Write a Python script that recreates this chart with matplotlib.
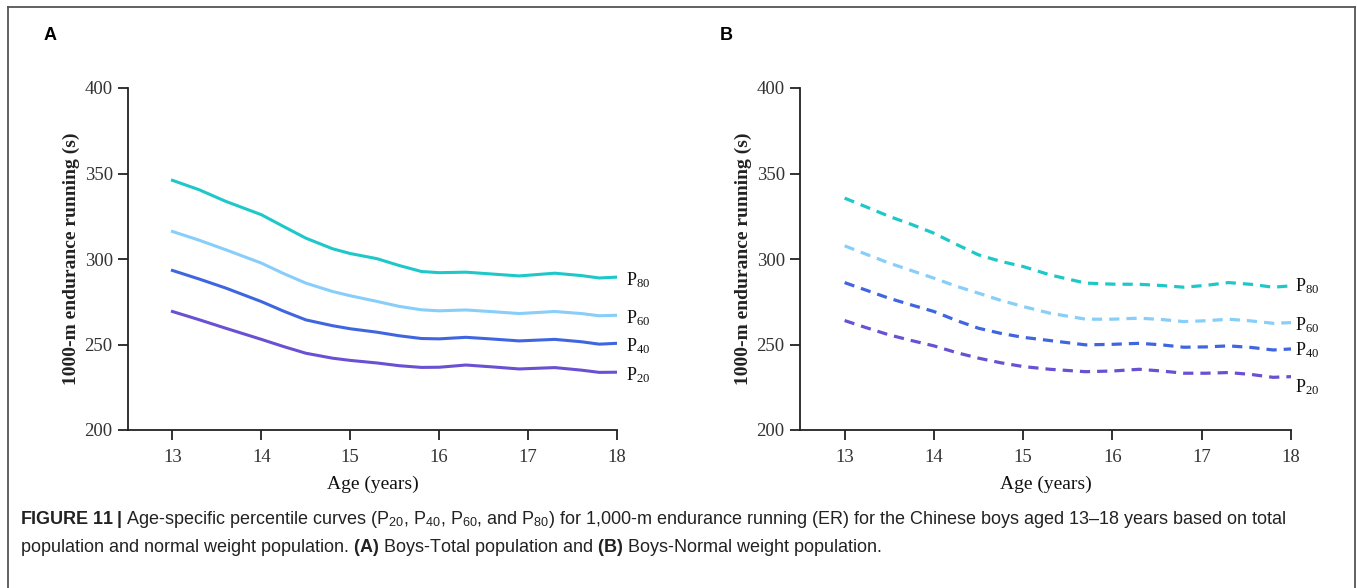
import matplotlib
matplotlib.use("Agg")
import matplotlib.pyplot as plt
from matplotlib.lines import Line2D

plt.rcParams['mathtext.fontset'] = 'custom'
plt.rcParams['mathtext.rm'] = 'Liberation Serif'
plt.rcParams['mathtext.it'] = 'Liberation Serif:italic'
plt.rcParams['mathtext.sf'] = 'Liberation Sans'
plt.rcParams['mathtext.bf'] = 'Liberation Sans:bold'

# ---- data ----
ages_a = [13, 13.3, 13.6, 14, 14.25, 14.5, 14.8, 15, 15.3, 15.55, 15.8, 16, 16.3, 16.6, 16.9, 17.3, 17.6, 17.8, 18]
a_p80 = [346, 340.5, 333.7, 325.9, 319, 312.2, 306, 303.2, 300.2, 296.2, 292.7, 292, 292.3, 291.2, 290.1, 291.7, 290.3, 288.9, 289.4]
a_p60 = [316.1, 311, 305.4, 297.6, 291.5, 285.9, 281, 278.5, 275.2, 272.3, 270.3, 269.7, 270.2, 269.2, 268.1, 269.3, 268.1, 266.8, 267.1]
a_p40 = [293.3, 288.3, 283, 275.1, 269.5, 264.4, 261, 259.2, 257.2, 255.1, 253.5, 253.3, 254.2, 253.2, 252.1, 253, 251.6, 250.2, 250.7]
a_p20 = [269.3, 264.5, 259.5, 253, 248.8, 244.9, 242, 240.7, 239.2, 237.6, 236.6, 236.7, 238, 236.9, 235.7, 236.5, 235, 233.7, 233.8]

ages_b = [13, 13.25, 13.5, 13.75, 14, 14.25, 14.5, 14.75, 15, 15.3, 15.7, 16, 16.3, 16.55, 16.8, 17.05, 17.3, 17.55, 17.8, 18]
b_p80 = [335.6, 330.3, 324.9, 320.2, 315.1, 308.6, 302.4, 298.6, 295.6, 290.7, 285.9, 285.3, 285.2, 284.5, 283.5, 284.6, 286.2, 285.2, 283.5, 284.3]
b_p60 = [307.7, 302.6, 297.6, 293.2, 288.8, 284.1, 280, 275.8, 272.2, 268.3, 264.8, 264.8, 265.4, 264.6, 263.4, 263.9, 264.8, 263.8, 262.4, 262.8]
b_p40 = [286.2, 281.6, 277, 273.1, 269.3, 264.1, 259.5, 256.5, 254.2, 252.3, 249.8, 250.1, 250.7, 249.8, 248.4, 248.6, 249.2, 248.3, 246.8, 247.4]
b_p20 = [264, 259.7, 255.6, 252.3, 249.2, 245.3, 242, 239.3, 237.1, 235.5, 234.1, 234.5, 235.5, 234.5, 233.2, 233.2, 233.6, 232.5, 230.8, 231.2]

percentiles = ['80', '60', '40', '20']
colors = ['#1EC8C8', '#87CEFA', '#3F66E0', '#6A50D2']
label_y_a = [287.8, 265.5, 248.8, 232.0]
label_y_b = [283.9, 261.5, 246.8, 225.3]
xticks = [13, 14, 15, 16, 17, 18]
yticks = [200, 250, 300, 350, 400]

W, H = 1357, 588
fig = plt.figure(figsize=(W / 100, H / 100), dpi=100)

# frame
for xs, ys in [([8 / W, 8 / W], [0, 1 - 7 / H]), ([8 / W, 1355 / W], [1 - 7 / H, 1 - 7 / H]),
               ([1355 / W, 1355 / W], [1 - 7 / H, 0])]:
    fig.add_artist(Line2D(xs, ys, transform=fig.transFigure, color='#555555', lw=1.3))

serif = 'Liberation Serif'

def panel(rect, ages, series, label_ys, label_x, dashed, letter, letter_x):
    ax = fig.add_axes(rect)
    for vals, c, p, ly in zip(series, colors, percentiles, label_ys):
        if dashed:
            ax.plot(ages, vals, color=c, lw=2.3, dashes=(3.2, 2.2), solid_capstyle='butt')
        else:
            ax.plot(ages, vals, color=c, lw=2.2)
        ax.text(label_x, ly, 'P$_{' + p + '}$', fontsize=13, family=serif,
                color='#111111', va='center', ha='left')
    ax.set_xlim(12.5, 18)
    ax.set_ylim(200, 400)
    ax.set_xticks(xticks)
    ax.set_yticks(yticks)
    for s in ['top', 'right']:
        ax.spines[s].set_visible(False)
    for s in ['left', 'bottom']:
        ax.spines[s].set_linewidth(1.3)
        ax.spines[s].set_color('#222222')
    ax.spines['bottom'].set_bounds(12.5, 18)
    ax.tick_params(direction='out', length=7, width=1.3, color='#222222',
                   labelsize=13.5, labelcolor='#333333', pad=4)
    for lab in ax.get_xticklabels() + ax.get_yticklabels():
        lab.set_family(serif)
    ax.tick_params(axis='x', pad=7)
    ax.set_xlabel('Age (years)', fontsize=14, family=serif, color='#111111', labelpad=7)
    ax.set_ylabel('1000-m endurance running (s)', fontsize=14, family=serif,
                  fontweight='bold', color='#222222', labelpad=3)
    fig.text(letter_x, 1 - 35 / H, letter, fontsize=13, fontweight='bold',
             family='Liberation Sans', va='center', ha='left')
    return ax

panel([128 / W, 1 - 430 / H, 489 / W, 342 / H], ages_a, [a_p80, a_p60, a_p40, a_p20],
      label_y_a, 18.1, False, 'A', 44 / W)
panel([800 / W, 1 - 430 / H, 491 / W, 342 / H], ages_b, [b_p80, b_p60, b_p40, b_p20],
      label_y_b, 18.05, True, 'B', 720 / W)

cap1 = (r'$\mathbf{FIGURE\ 11\ |}$ Age-specific percentile curves '
        r'($\mathsf{P}_{\mathsf{20}}$, $\mathsf{P}_{\mathsf{40}}$, $\mathsf{P}_{\mathsf{60}}$, and '
        r'$\mathsf{P}_{\mathsf{80}}$) for 1,000-m endurance running (ER) for the Chinese boys aged '
        '13\u201318 years based on total')
cap2 = (r'population and normal weight population. $\mathbf{(A)}$ Boys-Total population and '
        r'$\mathbf{(B)}$ Boys-Normal weight population.')
fig.text(20 / W, 1 - 519 / H, cap1, fontsize=13, family='Liberation Sans', color='#222222', va='center')
fig.text(20 / W, 1 - 548 / H, cap2, fontsize=13, family='Liberation Sans', color='#222222', va='center')

fig.savefig('out.png', dpi=100)
